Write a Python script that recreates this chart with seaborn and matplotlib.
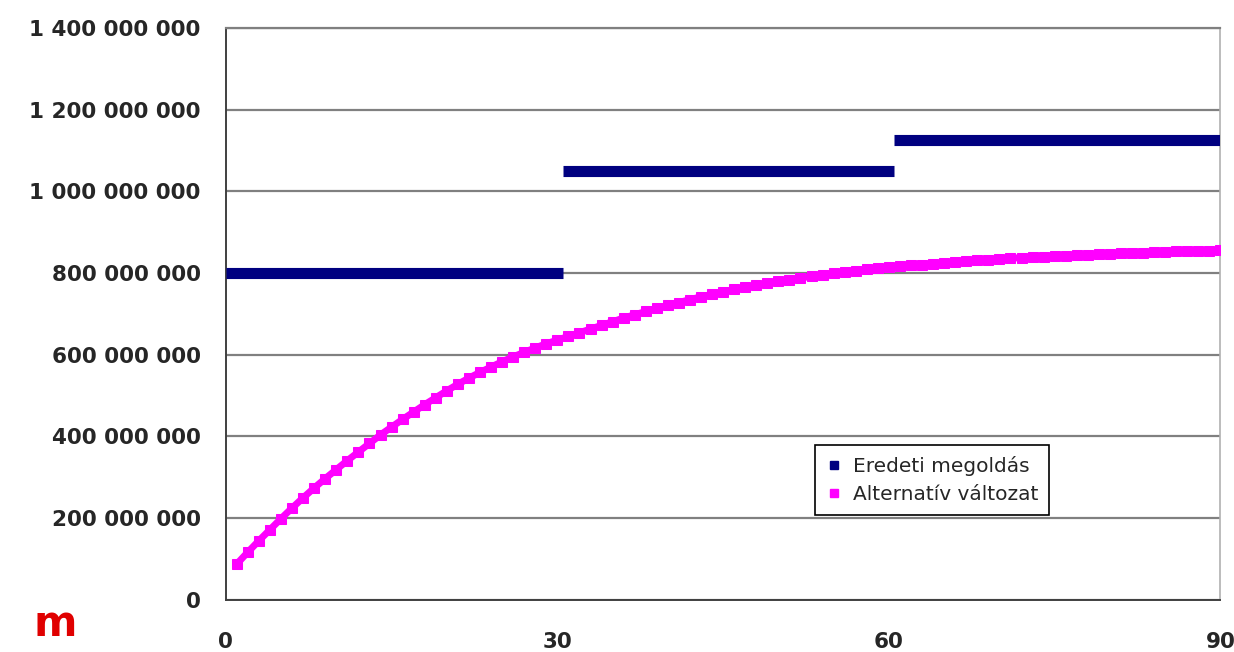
# Eredeti megoldás vs. alternatív változat - daily values over 90 days

import pandas as pd
import numpy as np
import seaborn as sns
import matplotlib.pyplot as plt
from matplotlib.ticker import FuncFormatter
from matplotlib.lines import Line2D

# Original solution: three flat periods
eredeti_start = [0, 30.5, 60.5]
eredeti_end = [30.5, 60.5, 90]
eredeti_value = [800e6, 1050e6, 1125e6]

# Alternative: daily values (millions)
napok = list(range(1, 91))
alternativ_mill = [
    88, 117, 145, 172, 199, 225, 250, 274, 297, 319,
    341, 362, 383, 404, 423, 442, 460, 478, 495, 512,
    528, 543, 557, 570, 583, 595, 606, 617, 627, 636,
    645, 654, 663, 672, 681, 690, 698, 706, 714, 721,
    728, 735, 742, 748, 754, 760, 765, 770, 775, 780,
    784, 788, 792, 796, 800, 803, 806, 809, 812, 815,
    817, 819, 821, 823, 825, 827, 829, 831, 833, 835,
    836, 838, 839, 840, 842, 843, 844, 845, 846, 847,
    848, 849, 850, 851, 852, 853, 853, 854, 855, 856,
]

labels = ['Eredeti megoldás', 'Alternatív változat']
colors = ['#000080', '#FF00FF']
x_ticks = [0, 30, 60, 90]
y_ticks = [0, 200e6, 400e6, 600e6, 800e6, 1000e6, 1200e6, 1400e6]

# Build tables
eredeti = pd.DataFrame({
    'nap': eredeti_start + eredeti_end,
    'ertek': eredeti_value + eredeti_value,
    'szakasz': [0, 1, 2, 0, 1, 2],
})
alternativ = pd.DataFrame({'nap': napok, 'ertek': np.array(alternativ_mill) * 1e6})

sns.set_style('white')
plt.rcParams['font.family'] = ['DejaVu Sans']

fig = plt.figure(figsize=(12.34, 6.52), dpi=100)
ax = fig.add_axes([0.183, 0.080, 0.806, 0.877])

# Grid lines
for y in y_ticks:
    ax.axhline(y, color='#808080', lw=1.6, zorder=0)

sns.lineplot(data=eredeti, x='nap', y='ertek', units='szakasz', estimator=None,
             color=colors[0], lw=8, solid_capstyle='butt', ax=ax, legend=False, zorder=3)
sns.lineplot(data=alternativ, x='nap', y='ertek', color=colors[1], lw=5,
             marker='s', markersize=7.5, markeredgecolor=colors[1], ax=ax,
             legend=False, zorder=4)

ax.set_xlim(0, 90)
ax.set_ylim(0, 1400e6)
ax.set_xticks(x_ticks)
ax.set_yticks(y_ticks)
ax.yaxis.set_major_formatter(FuncFormatter(lambda v, p: f"{v:,.0f}".replace(",", " ")))
ax.set_xlabel('')
ax.set_ylabel('')
ax.tick_params(axis='both', direction='out', length=6, width=1.2, color='#404040',
               labelsize=15.5)
ax.tick_params(axis='y', pad=12)
ax.tick_params(axis='x', pad=17)
for lab in ax.get_xticklabels() + ax.get_yticklabels():
    lab.set_fontweight('bold')

for side in ['left', 'bottom']:
    ax.spines[side].set_color('#404040')
    ax.spines[side].set_linewidth(1.4)
ax.spines['top'].set_color('#808080')
ax.spines['top'].set_linewidth(1.6)
ax.spines['right'].set_color('#b0b0b0')
ax.spines['right'].set_linewidth(1.2)

handles = [Line2D([], [], ls='none', marker='s', markersize=6, color=c) for c in colors]
leg = ax.legend(handles, labels, loc='upper left', bbox_to_anchor=(0.5825, 0.289),
                frameon=True, fancybox=False, framealpha=1, edgecolor='black',
                fontsize=14.5, handlelength=0.8, handletextpad=0.5, borderpad=0.55,
                labelspacing=0.45)
leg.get_frame().set_linewidth(1.2)

# small red logo in the corner
fig.text(0.027, 0.075, 'm', color='#e00000', fontsize=30, fontweight='bold',
         va='top', ha='left')

fig.savefig('out.png', dpi=100)
